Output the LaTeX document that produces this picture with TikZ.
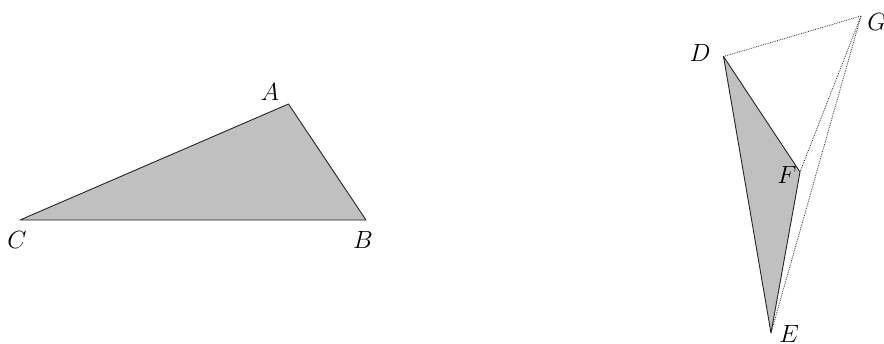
\documentclass[tikz,border=0pt]{standalone}
\begin{document}
\begin{tikzpicture}[x=1pt,y=-1pt,
  lbl/.style={inner sep=0pt,font=\fontsize{23}{28}\selectfont},
  tri/.style={draw=black!85,line width=0.9pt,fill={rgb,255:red,192;green,192;blue,192},line join=round},
  dots/.style={draw=black!80,line width=0.8pt,densely dotted}]
\useasboundingbox (0,0) rectangle (884,343);
% left triangle
\coordinate (A) at (288.5,104);
\coordinate (B) at (366,220);
\coordinate (C) at (20,220);
\draw[tri] (A) -- (B) -- (C) -- cycle;
\node[lbl] (lA) at (270,92) {$A$};
\node[lbl] (lB) at (363,240) {$B$};
\node[lbl] (lC) at (17,240) {$C$};
% right figure
\coordinate (D) at (723.5,56.5);
\coordinate (E) at (771,333);
\coordinate (F) at (800,172);
\coordinate (G) at (861,16);
\draw[dots] (D) -- (G);
\draw[dots] (G) -- (F);
\draw[dots] (G) -- (E);
\draw[tri] (D) -- (F) -- (E) -- cycle;
\node[lbl] (lD) at (700,53) {$D$};
\node[lbl] (lG) at (877,22) {$G$};
\node[lbl] (lF) at (787,175) {$F$};
\node[lbl] (lE) at (789,334) {$E$};
\end{tikzpicture}
\end{document}
